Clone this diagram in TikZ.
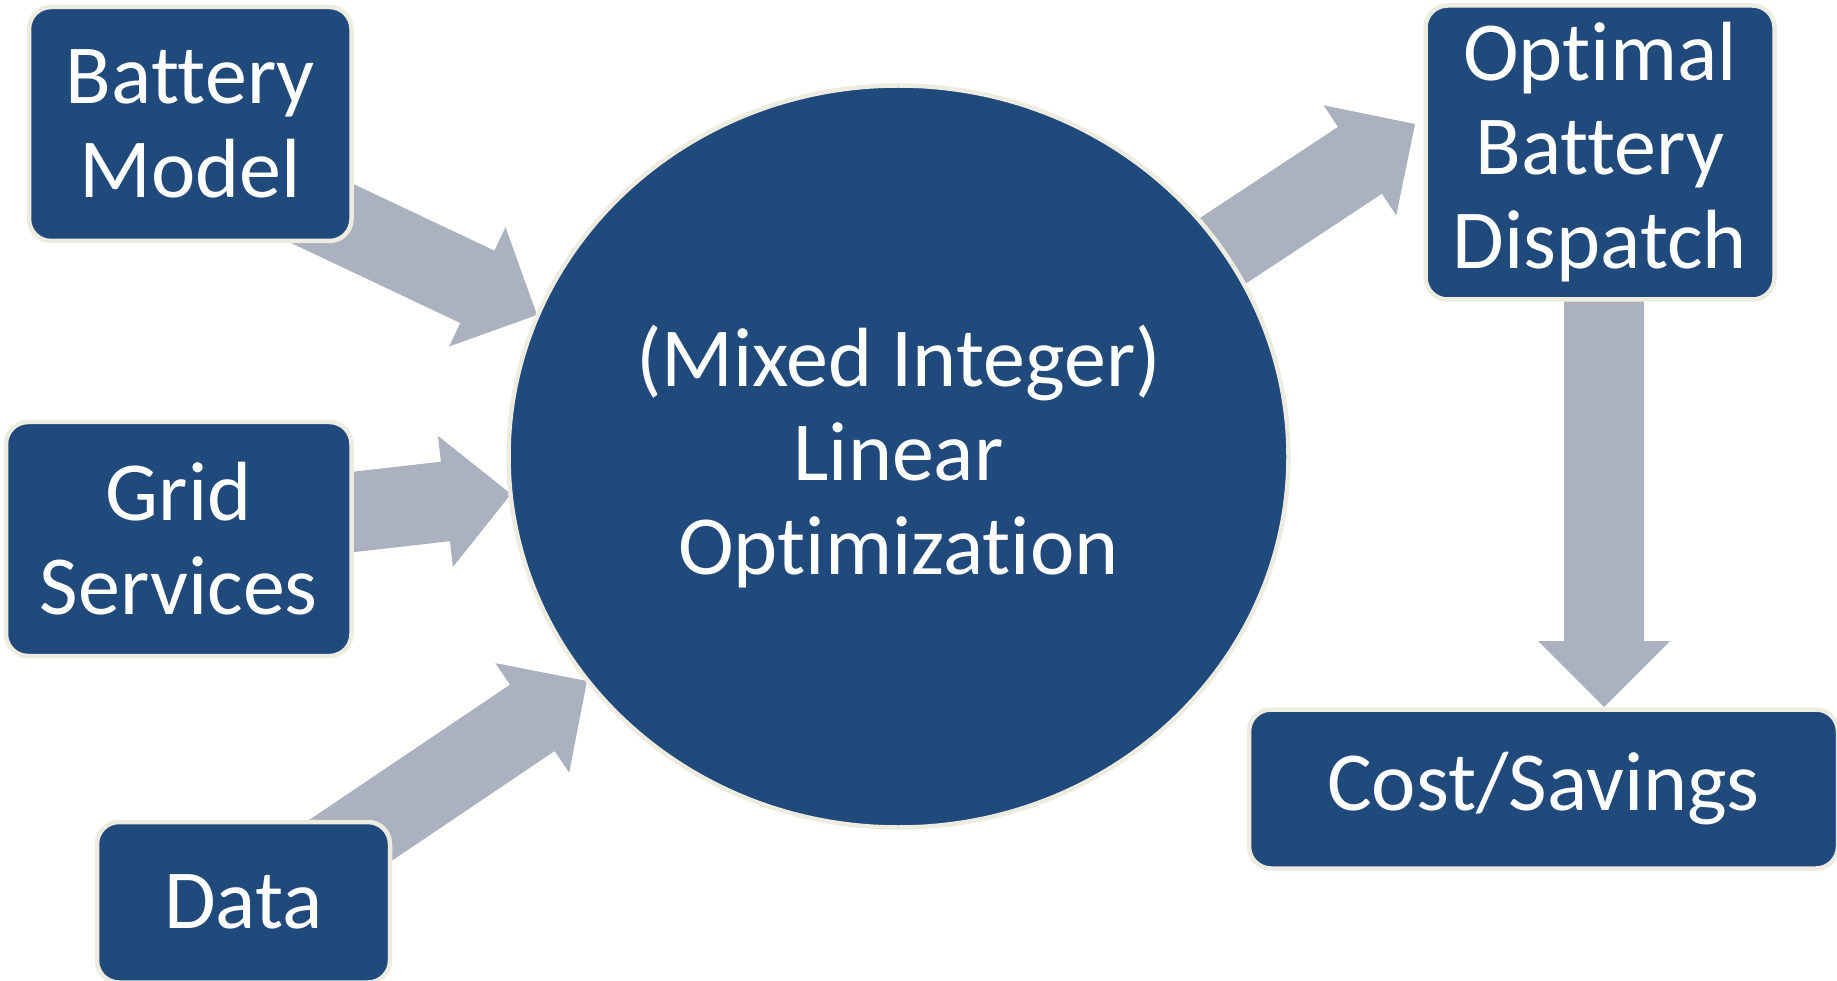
\documentclass[tikz,border=0pt]{standalone}
\usepackage{fontspec}
\setmainfont{Carlito}[Ligatures=CommonOff]
\usetikzlibrary{calc,backgrounds,shapes.geometric}
\definecolor{boxblue}{RGB}{33,74,124}
\definecolor{rimcream}{RGB}{238,236,225}
\definecolor{arrowgray}{RGB}{171,177,191}
\tikzset{
  bigtext/.style={text=white, align=center, font=\fontsize{84}{94}\selectfont},
  box/.style={rectangle, rounded corners=22pt, fill=boxblue, draw=rimcream,
    line width=4.5pt, inner sep=0pt, outer sep=0pt, bigtext},
  hub/.style={ellipse, fill=boxblue, draw=rimcream, line width=4.5pt,
    inner sep=0pt, outer sep=0pt, bigtext},
  blockarrowfill/.style={fill=arrowgray}
}
% block arrow from coordinate #1 to tip #2: shaft 80, head 132 wide, 66 long
\newcommand\blockarrow[2]{%
  \fill[blockarrowfill] let \p1=($(#2)-(#1)$), \n1={atan2(\y1,\x1)} in
    ($(#1)+({\n1+90}:40pt)$)
    -- ($(#2)+({\n1+180}:66pt)+({\n1+90}:40pt)$)
    -- ($(#2)+({\n1+180}:66pt)+({\n1+90}:66pt)$)
    -- (#2)
    -- ($(#2)+({\n1+180}:66pt)+({\n1-90}:66pt)$)
    -- ($(#2)+({\n1+180}:66pt)+({\n1-90}:40pt)$)
    -- ($(#1)+({\n1-90}:40pt)$)
    -- cycle;}
\begin{document}
\begin{tikzpicture}[x=1pt,y=-1pt]
\useasboundingbox (0,0) rectangle (1837,981);

\node[box, minimum width=322.5pt, minimum height=234pt] (battery) at (190.25,124) {Battery\\Model};
\node[box, minimum width=345.5pt, minimum height=234pt] (grid) at (178.75,539) {Grid\\Services};
\node[box, minimum width=293pt, minimum height=160.5pt] (data) at (243.5,902.25) {Data};
\node[hub, minimum width=780pt, minimum height=742pt] (opt) at (898.5,456.5) {(Mixed Integer)\\Linear\\Optimization};
\node[box, minimum width=349pt, minimum height=294pt] (dispatch) at (1600,152.5) {Optimal\\Battery\\Dispatch};
\node[box, minimum width=589pt, minimum height=159pt] (cost) at (1543.5,789) {Cost/Savings};

\coordinate (s1) at (300,203);  \coordinate (t1) at (537,315);
\coordinate (s2) at (300,518);  \coordinate (t2) at (511,494);
\coordinate (s3) at (305,871);  \coordinate (t3) at (587,681);
\coordinate (s4) at (1165,289); \coordinate (t4) at (1415,124);
\coordinate (s5) at (1604,250); \coordinate (t5) at (1604,707);

\begin{scope}[on background layer]
  \blockarrow{s1}{t1}
  \blockarrow{s2}{t2}
  \blockarrow{s3}{t3}
  \blockarrow{s4}{t4}
  \blockarrow{s5}{t5}
\end{scope}
\end{tikzpicture}
\end{document}
